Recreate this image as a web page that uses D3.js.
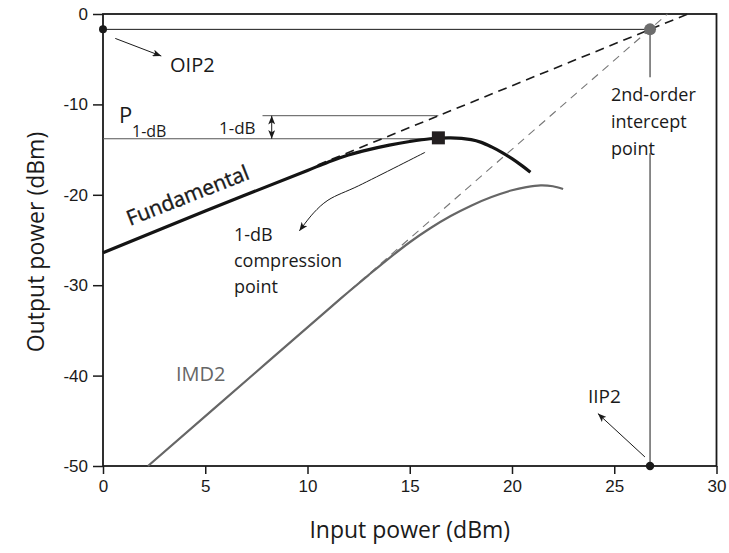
<!DOCTYPE html>
<html>
<head>
<meta charset="utf-8">
<script src="https://cdn.jsdelivr.net/npm/d3@7"></script>
<style>
body{margin:0;background:#fff;}
text{font-family:"Open Sans",sans-serif;fill:#1a1a1a;}
.tick text{font-family:"Liberation Sans",Arial,sans-serif;}
</style>
</head>
<body>
<div id="chart"></div>
<script>
const w = 729;
const h = 553;

// axis ticks
const xTicks = [0, 5, 10, 15, 20, 25, 30];
const yTicks = [0, -10, -20, -30, -40, -50];

// curves: [input dBm, output dBm]
const fundamental = [[0,-26.4],[5,-21.8],[10,-17.3],[11,-16.4],[12,-15.6],[13,-15.0],[14,-14.5],[15,-14.1],[16,-13.8],[17,-13.7],[18,-13.9],[18.5,-14.2],[19,-14.7],[19.5,-15.3],[20,-16.0],[20.5,-16.8],[20.9,-17.5]];
const imd2 = [[2.2,-50],[8,-38.6],[11,-32.7],[12,-30.75],[13,-28.85],[14,-27.0],[15,-25.25],[16,-23.7],[17,-22.35],[18,-21.2],[19,-20.25],[20,-19.5],[20.7,-19.15],[21.4,-18.95],[22,-19.05],[22.5,-19.35]];

// extrapolated straight lines
const fundExtrap = [[10.5,-16.7],[28.6,0]];
const imdExtrap = [[11,-32.7],[27.6,0]];

// marked points
const oip2 = [0, -1.7];
const intercept = [26.75, -1.7];
const iip2 = [26.75, -50];
const p1dB = [16.4, -13.7];
const p1dBLevels = [-13.8, -11.25];

var svg = d3.select("#chart")
  .append("svg")
  .attr("width", w)
  .attr("height", h);

var x = d3.scaleLinear().domain([0, 30]).range([103, 716.5]);
var y = d3.scaleLinear().domain([-50, 0]).range([466, 14]);

var defs = svg.append("defs");
defs.append("marker")
  .attr("id", "arrow")
  .attr("viewBox", "0 0 10 8")
  .attr("refX", 10).attr("refY", 4)
  .attr("markerWidth", 9).attr("markerHeight", 7)
  .attr("markerUnits", "userSpaceOnUse")
  .attr("orient", "auto-start-reverse")
  .append("path")
  .attr("d", "M0,0 L10,4 L0,8 L2.5,4 Z")
  .attr("fill", "#1a1a1a");

// axes
svg.append("g")
  .attr("transform", "translate(0," + y(-50) + ")")
  .call(d3.axisBottom(x).tickValues(xTicks).tickFormat(d => d).tickSize(8).tickPadding(6))
  .call(g => g.select(".domain").remove())
  .call(g => g.selectAll(".tick line").attr("stroke", "#1a1a1a").attr("stroke-width", 1.5))
  .call(g => g.selectAll(".tick text").attr("font-size", 17).attr("fill", "#1a1a1a"));

svg.append("g")
  .attr("transform", "translate(" + x(0) + ",0)")
  .call(d3.axisLeft(y).tickValues(yTicks).tickFormat(d => d).tickSize(10).tickPadding(5))
  .call(g => g.select(".domain").remove())
  .call(g => g.selectAll(".tick line").attr("stroke", "#1a1a1a").attr("stroke-width", 1.5))
  .call(g => g.selectAll(".tick text").attr("font-size", 17).attr("fill", "#1a1a1a"));

// frame
svg.append("rect")
  .attr("x", x(0)).attr("y", y(0))
  .attr("width", x(30) - x(0)).attr("height", y(-50) - y(0))
  .attr("fill", "none").attr("stroke", "#1a1a1a").attr("stroke-width", 1.8);

// axis titles
svg.append("text")
  .attr("x", (x(0) + x(30)) / 2).attr("y", 538)
  .attr("text-anchor", "middle").attr("font-size", 23)
  .text("Input power (dBm)");

svg.append("text")
  .attr("transform", "translate(44," + (y(-25) + 2) + ") rotate(-90)")
  .attr("text-anchor", "middle").attr("font-size", 23)
  .text("Output power (dBm)");

var line = d3.line().x(d => x(d[0])).y(d => y(d[1]));

// OIP2 level and intercept drop line
svg.append("path")
  .attr("d", line([oip2, intercept]))
  .attr("stroke", "#1a1a1a").attr("stroke-width", 1).attr("fill", "none");
svg.append("path")
  .attr("d", line([intercept, [intercept[0], -7.0]]))
  .attr("stroke", "#1a1a1a").attr("stroke-width", 1).attr("fill", "none");
svg.append("path")
  .attr("d", line([[iip2[0], -15.4], iip2]))
  .attr("stroke", "#1a1a1a").attr("stroke-width", 1).attr("fill", "none");

// P1dB levels
svg.append("path")
  .attr("d", line([[0, p1dBLevels[0]], [p1dB[0], p1dBLevels[0]]]))
  .attr("stroke", "#555").attr("stroke-width", 1).attr("fill", "none");
svg.append("path")
  .attr("d", line([[7.8, p1dBLevels[1]], [p1dB[0], p1dBLevels[1]]]))
  .attr("stroke", "#555").attr("stroke-width", 1).attr("fill", "none");
svg.append("path")
  .attr("d", line([[8.25, p1dBLevels[1]], [8.25, p1dBLevels[0]]]))
  .attr("stroke", "#1a1a1a").attr("stroke-width", 1).attr("fill", "none")
  .attr("marker-start", "url(#arrow)").attr("marker-end", "url(#arrow)");

// extrapolations
svg.append("path")
  .attr("d", line(fundExtrap))
  .attr("stroke", "#1a1a1a").attr("stroke-width", 1.6)
  .attr("stroke-dasharray", "9,6").attr("fill", "none");
svg.append("path")
  .attr("d", line(imdExtrap))
  .attr("stroke", "#777").attr("stroke-width", 1.1)
  .attr("stroke-dasharray", "8,6").attr("fill", "none");

// curves
var smooth = d3.line().x(d => x(d[0])).y(d => y(d[1])).curve(d3.curveCatmullRom);
svg.append("path")
  .attr("d", smooth(imd2))
  .attr("stroke", "#666").attr("stroke-width", 2.2).attr("fill", "none");
svg.append("path")
  .attr("d", smooth(fundamental))
  .attr("stroke", "#141414").attr("stroke-width", 3.2).attr("fill", "none");

// points
svg.append("rect")
  .attr("x", x(p1dB[0]) - 6.5).attr("y", y(p1dB[1]) - 6.5)
  .attr("width", 13).attr("height", 13).attr("fill", "#231f20");
svg.append("circle")
  .attr("cx", x(intercept[0])).attr("cy", y(intercept[1])).attr("r", 6)
  .attr("fill", "#6d6d6d");
svg.append("circle")
  .attr("cx", x(oip2[0])).attr("cy", y(oip2[1])).attr("r", 4)
  .attr("fill", "#1a1a1a");
svg.append("circle")
  .attr("cx", x(iip2[0])).attr("cy", y(iip2[1])).attr("r", 4.2)
  .attr("fill", "#1a1a1a");

// annotation arrows
svg.append("path")
  .attr("d", line([[0.6, -2.7], [2.85, -4.65]]))
  .attr("stroke", "#1a1a1a").attr("stroke-width", 1).attr("fill", "none")
  .attr("marker-end", "url(#arrow)");
svg.append("path")
  .attr("d", line([[26.5, -49.0], [24.2, -44.2]]))
  .attr("stroke", "#1a1a1a").attr("stroke-width", 1).attr("fill", "none")
  .attr("marker-end", "url(#arrow)");
svg.append("path")
  .attr("d", smooth([[15.75,-15.3],[12.5,-19.0],[11.0,-20.6],[10.3,-22.0],[9.6,-24.0]]))
  .attr("stroke", "#1a1a1a").attr("stroke-width", 1).attr("fill", "none")
  .attr("marker-end", "url(#arrow)");

// labels
svg.append("text").attr("x", 170).attr("y", 72).attr("font-size", 20).text("OIP2");
svg.append("text").attr("x", 119).attr("y", 123).attr("font-size", 22).text("P");
svg.append("text").attr("x", 132).attr("y", 137).attr("font-size", 16).text("1-dB");
svg.append("text").attr("x", 219).attr("y", 134).attr("font-size", 17).text("1-dB");
svg.append("text")
  .attr("transform", "translate(130,226) rotate(-21.5)")
  .attr("font-size", 21).attr("stroke", "#1a1a1a").attr("stroke-width", 0.4)
  .text("Fundamental");
svg.append("text").attr("x", 176).attr("y", 381).attr("font-size", 20).style("fill", "#666").text("IMD2");
svg.append("text").attr("x", 588).attr("y", 403).attr("font-size", 19).text("IIP2");

var comp = svg.append("text").attr("x", 234).attr("y", 241).attr("font-size", 18);
["1-dB", "compression", "point"].forEach((t, i) => comp.append("tspan").attr("x", 234).attr("dy", i ? 26 : 0).text(t));

var ip = svg.append("text").attr("x", 611).attr("y", 101).attr("font-size", 18);
["2nd-order", "intercept", "point"].forEach((t, i) => ip.append("tspan").attr("x", 611).attr("dy", i ? 27 : 0).text(t));
</script>
</body>
</html>
